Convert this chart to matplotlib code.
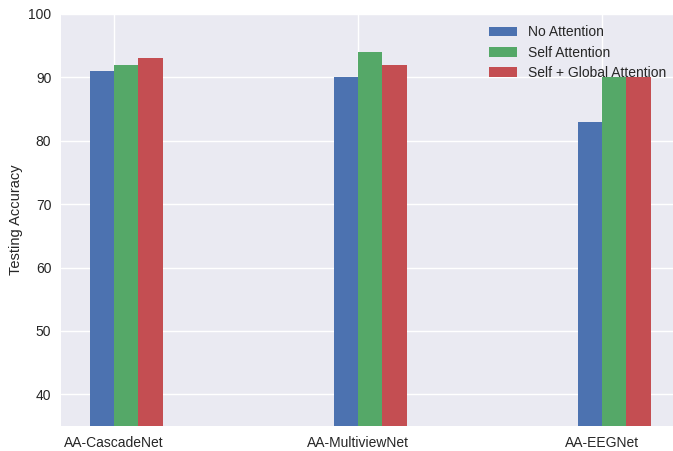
import matplotlib
matplotlib.use("Agg")
import matplotlib.pyplot as plt
import numpy as np

plt.style.use("seaborn-v0_8")
plt.rcParams['font.family'] = ['Liberation Sans', 'DejaVu Sans']

models = ["AA-CascadeNet", "AA-MultiviewNet", "AA-EEGNet"]
no_attention = [91, 90, 83]
self_attention = [92, 94, 90]
self_global_attention = [93, 92, 90]
series_labels = ["No Attention", "Self Attention", "Self + Global Attention"]

fig = plt.figure(figsize=(6.73, 4.51), dpi=100)
ax = fig.add_axes([61/673, 25/451, 1 - 61/673, 412/451])

x = np.arange(len(models))
w = 0.1
ax.bar(x - w/2, no_attention, w, label=series_labels[0], color="#4C72B0")
ax.bar(x + w/2, self_attention, w, label=series_labels[1], color="#55A868")
ax.bar(x + 1.5*w, self_global_attention, w, label=series_labels[2], color="#C44E52")

ax.set_xticks(x)
ax.set_xticklabels(models, fontsize=10)
ax.tick_params(axis='y', labelsize=10)
ax.set_ylabel("Testing Accuracy", fontsize=10.5)
ax.set_ylim(35, 100)
ax.set_xlim(-0.217, 2.291)
ax.legend(loc="upper right", fontsize=10, bbox_to_anchor=(1.010, 1.003),
          labelspacing=0.45)

fig.savefig("out.png", dpi=100)
